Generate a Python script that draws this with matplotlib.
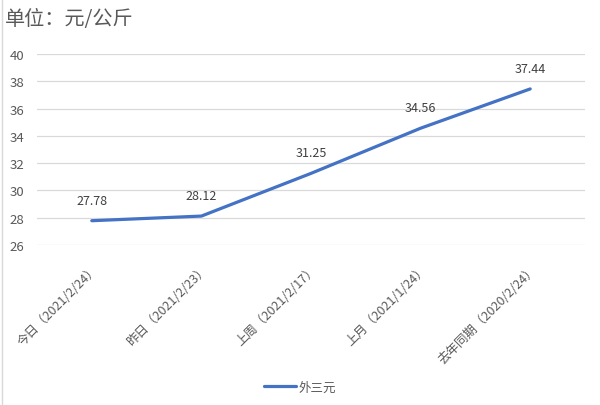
import matplotlib
matplotlib.use("Agg")
import matplotlib.pyplot as plt
from matplotlib.lines import Line2D

plt.rcParams['font.family'] = ['Noto Sans CJK SC', 'DejaVu Sans']

# data
categories = ['今日（2021/2/24）', '昨日（2021/2/23）', '上周（2021/2/17）',
              '上月（2021/1/24）', '去年同期（2020/2/24）']
prices = [27.78, 28.12, 31.25, 34.56, 37.44]
series_name = '外三元'
yticks = [26, 28, 30, 32, 34, 36, 38, 40]

W, H = 600, 406
fig = plt.figure(figsize=(W / 100, H / 100), dpi=100)
ax = fig.add_axes([37 / W, 1 - 246 / H, 548 / W, (246 - 55) / H])

x = list(range(len(categories)))
line, = ax.plot(x, prices, color='#4472C4', linewidth=2.3, solid_capstyle='round',
                label=series_name)

for xi, v in zip(x, prices):
    ax.annotate(f'{v:.2f}', (xi, v), xytext=(0, 10), textcoords='offset points',
                ha='center', va='bottom', fontsize=9, color='#404040')

ax.set_xlim(-0.5, len(categories) - 0.5)
ax.set_ylim(26, 40)
ax.set_yticks(yticks)
ax.set_xticks(x)
ax.set_xticklabels(categories, rotation=45, ha='right', rotation_mode='anchor',
                   fontsize=9, color='#595959')
ax.tick_params(axis='y', labelsize=9.5, labelcolor='#595959', length=0, pad=9)
ax.tick_params(axis='x', length=0, pad=12)
ax.grid(axis='y', color='#D9D9D9', linewidth=0.9)
ax.set_axisbelow(True)
for s in ax.spines.values():
    s.set_visible(False)

fig.text(5 / W, 1 - 20 / H, '单位：元/公斤', fontsize=14.5, color='#595959',
         ha='left', va='center')

fig.legend(handles=[line], loc='center', bbox_to_anchor=(0.5, 1 - 388 / H),
           frameon=False, fontsize=9, labelcolor='#595959', handlelength=2.6,
           handletextpad=0.2)

# thin chart border on the left edge
fig.add_artist(Line2D([2 / W, 2 / W], [0, 1], color='#D9D9D9', linewidth=1,
                      transform=fig.transFigure))

fig.savefig('out.png', dpi=100)
